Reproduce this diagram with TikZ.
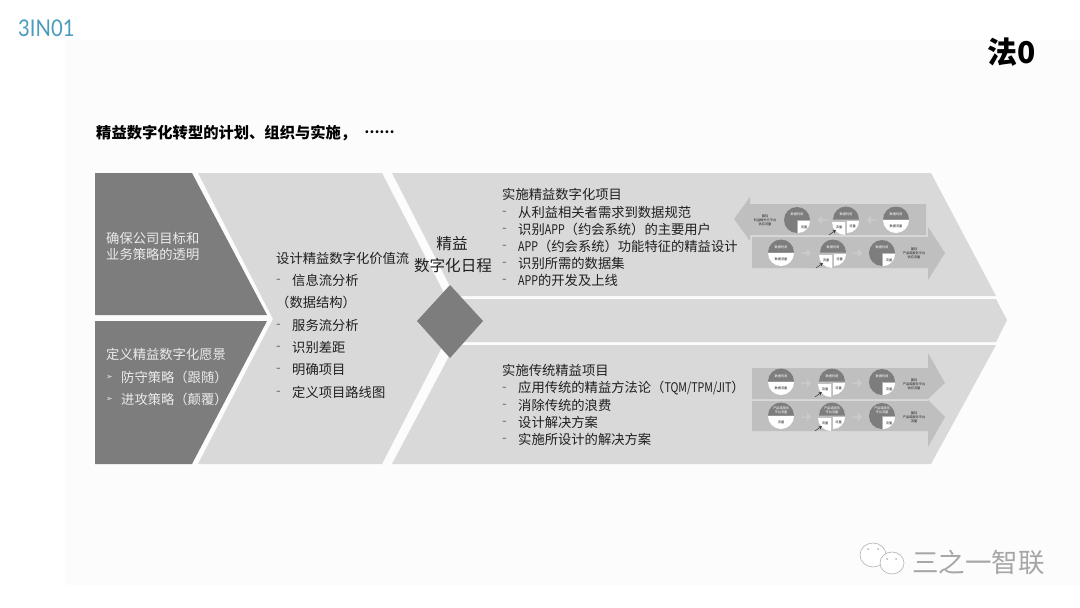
\documentclass[tikz,border=0pt]{standalone}
\usepackage{fontspec}
\setmainfont{Noto Sans CJK SC}
\newfontfamily\symfont{DejaVu Sans}
\newfontfamily\logofont[FakeStretch=0.88]{Lato}
\newfontfamily\narrowfont[FakeStretch=0.8]{Noto Sans CJK SC}
\usetikzlibrary{shapes.arrows}
\definecolor{paneldark}{HTML}{7D7D7D}
\definecolor{panellight}{HTML}{D9D9D9}
\definecolor{bandgray}{HTML}{BFBFBF}
\definecolor{hintgray}{HTML}{CACACA}
\definecolor{inkgray}{HTML}{1F1F1F}
\definecolor{backgray}{HTML}{FCFCFC}
\definecolor{logoteal}{HTML}{4A9BBD}
\tikzset{
    bodytext/.style={anchor=west,inner sep=0pt,text=inkgray,font=\fontsize{13.3}{16}\selectfont},
    dashtext/.style={bodytext,yshift=-1pt,text=black!60},
    whitetext/.style={bodytext,text=white!92!black},
    tinytext/.style={inner sep=0pt,align=center,text=inkgray,font=\fontsize{3.2}{3.9}\selectfont},
    tinywhite/.style={tinytext,text=white},
    hintarrow/.style={single arrow,fill=hintgray,inner sep=0pt,minimum width=9pt,minimum height=10pt,single arrow head extend=1pt},
}
\newcommand{\latin}[1]{{\narrowfont\fontsize{13.3}{16}\selectfont #1}}
% pie with a dark upper half
\newcommand{\halfpie}[5]{
    \begin{scope}[shift={(#2,#3)}]
        \fill[white] (0,0) -- (13,0) arc[start angle=0,end angle=180,radius=13] -- cycle;
        \fill[paneldark] (0,-0.5) ++(-13,0) arc[start angle=180,end angle=360,radius=13] -- cycle;
        \node[tinywhite] (#1top) at (0,-6) {#4};
        \node[tinytext] (#1low) at (0,6) {#5};
    \end{scope}
}
% pie with two white quarters below
\newcommand{\splitpie}[5]{
    \begin{scope}[shift={(#2,#3)}]
        \fill[paneldark] (0,-0.5) ++(-13,0) arc[start angle=180,end angle=360,radius=13] -- cycle;
        \fill[white] (1,1) -- ++(12,0) arc[start angle=0,end angle=90,radius=12] -- cycle;
        \fill[white] (-1,2) -- ++(-13,0) arc[start angle=180,end angle=90,radius=13] -- cycle;
        \node[tinywhite] (#1top) at (0,-6) {#4};
        \node[tinytext] (#1low) at (-7,7) {#5};
        \node[tinytext] (#1right) at (6.5,6) {#5};
        \coordinate (#1from) at (-17,15);
        \coordinate (#1to) at (-10,10);
        \draw[black!80,line width=0.5pt,-stealth] (#1from) -- (#1to);
    \end{scope}
}
% pie with one white quarter
\newcommand{\quarterpie}[5]{
    \begin{scope}[shift={(#2,#3)}]
        \fill[paneldark] (0,0) -- (0,13) arc[start angle=90,end angle=360,radius=13] -- cycle;
        \fill[white] (1,1) -- ++(12,0) arc[start angle=0,end angle=90,radius=12] -- cycle;
        \node[tinywhite] (#1top) at (0,-6) {#4};
        \node[tinytext] (#1low) at (7,7) {#5};
    \end{scope}
}
\begin{document}
\begin{tikzpicture}[x=1pt,y=-1pt]
    \useasboundingbox (0,0) rectangle (1080,608);
    \fill[white] (0,0) rectangle (1080,608);
    \fill[backgray] (65,40) rectangle (1080,585);

    \node[anchor=west,inner sep=0pt,text=logoteal,font=\logofont\fontsize{23}{26}\selectfont] (logo) at (18,28) {3IN01};
    \node[inner sep=0pt,text=black,font=\bfseries\fontsize{30}{34}\selectfont] (law) at (1012,52) {法0};
    \node[bodytext,text=black,font=\bfseries\fontsize{15.3}{18}\selectfont] (title) at (96,133) {精益数字化转型的计划、组织与实施，\hspace{8pt}\raisebox{0.3em}{\fontsize{13.5}{16}\selectfont ……}};

    % left panels
    \fill[paneldark] (95,173) -- (192,173) -- (267,315) -- (95,315) -- cycle;
    \fill[paneldark] (95,321) -- (267,321) -- (192,464) -- (95,464) -- cycle;
    % chevrons
    \fill[panellight] (198,173) -- (382,173) -- (457,318) -- (382,464) -- (198,464) -- (273,319) -- cycle;
    \fill[panellight] (392,173) -- (931,173) -- (996,296) -- (455,296) -- cycle;
    \fill[panellight] (462,299) -- (996,299) -- (1007,320) -- (996,342) -- (462,342) -- (470,320) -- cycle;
    \fill[panellight] (455,345) -- (996,345) -- (931,464) -- (392,464) -- cycle;
    \fill[paneldark] (450,285) -- (483,321) -- (450,358) -- (417,321) -- cycle;

    \foreach \n/\y/\t in {a/238/确保公司目标和,b/254/业务策略的透明,c/354/定义精益数字化愿景}
        \node[whitetext] (left\n) at (106,\y) {\t};
    \foreach \n/\y/\t in {d/377/防守策略（跟随）,e/399/进攻策略（颠覆）}{
        \node[whitetext,font=\symfont\fontsize{8}{9}\selectfont] (mark\n) at (106,\y) {➢};
        \node[whitetext] (left\n) at (121,\y) {\t};
    }

    \node[bodytext] (midhead) at (276,258) {设计精益数字化价值流};
    \node[bodytext] (midnote) at (276,302) {（数据结构）};
    \foreach \n/\y/\t in {a/280/信息流分析,b/325/服务流分析,c/347/识别差距,d/369/明确项目,e/392/定义项目路线图}{
        \node[dashtext] (middash\n) at (276,\y) {-};
        \node[bodytext] (mid\n) at (292,\y) {\t};
    }

    \node[inner sep=0pt,text=inkgray,font=\fontsize{15.6}{19}\selectfont] (agendaa) at (452,244) {精益};
    \node[inner sep=0pt,text=inkgray,font=\fontsize{15.6}{19}\selectfont] (agendab) at (453,266) {数字化日程};

    \node[bodytext] (tophead) at (502,194) {实施精益数字化项目};
    \foreach \n/\y/\t in {a/212/从利益相关者需求到数据规范,b/229/识别\latin{APP}（约会系统）的主要用户,c/246/\latin{APP}（约会系统）功能特征的精益设计,d/263/识别所需的数据集,e/280/\latin{APP}的开发及上线}{
        \node[dashtext] (topdash\n) at (502,\y) {-};
        \node[bodytext] (top\n) at (518,\y) {\t};
    }

    \node[bodytext] (lowhead) at (502,370) {实施传统精益项目};
    \foreach \n/\y/\t in {a/388/{应用传统的精益方法论（\latin{TQM/TPM/JIT}）},b/405/消除传统的浪费,c/422/设计解决方案,d/439/实施所设计的解决方案}{
        \node[dashtext] (lowdash\n) at (502,\y) {-};
        \node[bodytext] (low\n) at (518,\y) {\t};
    }

    % small arrows
    \fill[bandgray] (926,204) -- (750,204) -- (750,197) -- (734,219) -- (750,241) -- (750,235) -- (926,235) -- cycle;
    \fill[bandgray] (752,237) -- (928,237) -- (928,227) -- (945,253) -- (928,280) -- (928,268) -- (752,268) -- cycle;
    \fill[bandgray] (752,368) -- (928,368) -- (928,353) -- (945,383) -- (928,399) -- (752,399) -- cycle;
    \fill[bandgray] (752,401) -- (928,401) -- (928,400) -- (945,417) -- (928,447) -- (928,431) -- (752,431) -- cycle;

    \node[tinytext] (noteb) at (765,220) {国际\\利益相关方平台\\供应流量};
    \quarterpie{pa}{797}{220}{数据利润}{流量}
    \node[hintarrow,shape border rotate=180] (ha) at (823,220) {};
    \splitpie{pb}{846}{220}{数据利润}{流量}
    \node[hintarrow,shape border rotate=180] (hb) at (872,220) {};
    \halfpie{pc}{896}{220}{数据利润}{数据流量}

    \halfpie{qa}{781}{253}{数据利润}{数据流量}
    \node[hintarrow] (hc) at (806,253) {};
    \splitpie{qb}{833}{253}{数据利润}{流量}
    \node[hintarrow] (hd) at (857,253) {};
    \quarterpie{qc}{882}{253}{数据利润}{流量}
    \node[tinytext] (notec) at (914,253) {国际\\产品或服务平台\\供应流量};

    \halfpie{ra}{781}{382}{数据利润}{数据流量}
    \node[hintarrow] (he) at (806,383) {};
    \splitpie{rb}{832}{382}{数据利润}{流量}
    \node[hintarrow] (hf) at (857,383) {};
    \quarterpie{rc}{882}{382}{数据利润}{流量}
    \node[tinytext] (noted) at (914,384) {国际\\产品或服务平台\\供应流量};

    \halfpie{sa}{781}{416}{产品或服务\\平台流量}{流量}
    \node[hintarrow] (hg) at (806,417) {};
    \splitpie{sb}{832}{416}{产品或服务\\平台流量}{流量}
    \node[hintarrow] (hh) at (857,417) {};
    \quarterpie{sc}{882}{416}{产品或服务\\平台流量}{流量}
    \node[tinytext] (notee) at (914,417) {国际\\产品或服务平台\\流量};

    % watermark
    \draw[gray!60,fill=white,line width=0.6pt] (873,555) circle[x radius=13,y radius=12];
    \draw[gray!60,fill=white,line width=0.6pt] (892,563) circle[x radius=12,y radius=11];
    \fill[gray!60] (868,549) circle[radius=1] (878,549) circle[radius=1] (887,559) circle[radius=1] (896,559) circle[radius=1];
    \node[inner sep=0pt,anchor=west,text=black!35,font=\fontsize{26.5}{30}\selectfont] (mark) at (912,562) {三之一智联};
\end{tikzpicture}
\end{document}
